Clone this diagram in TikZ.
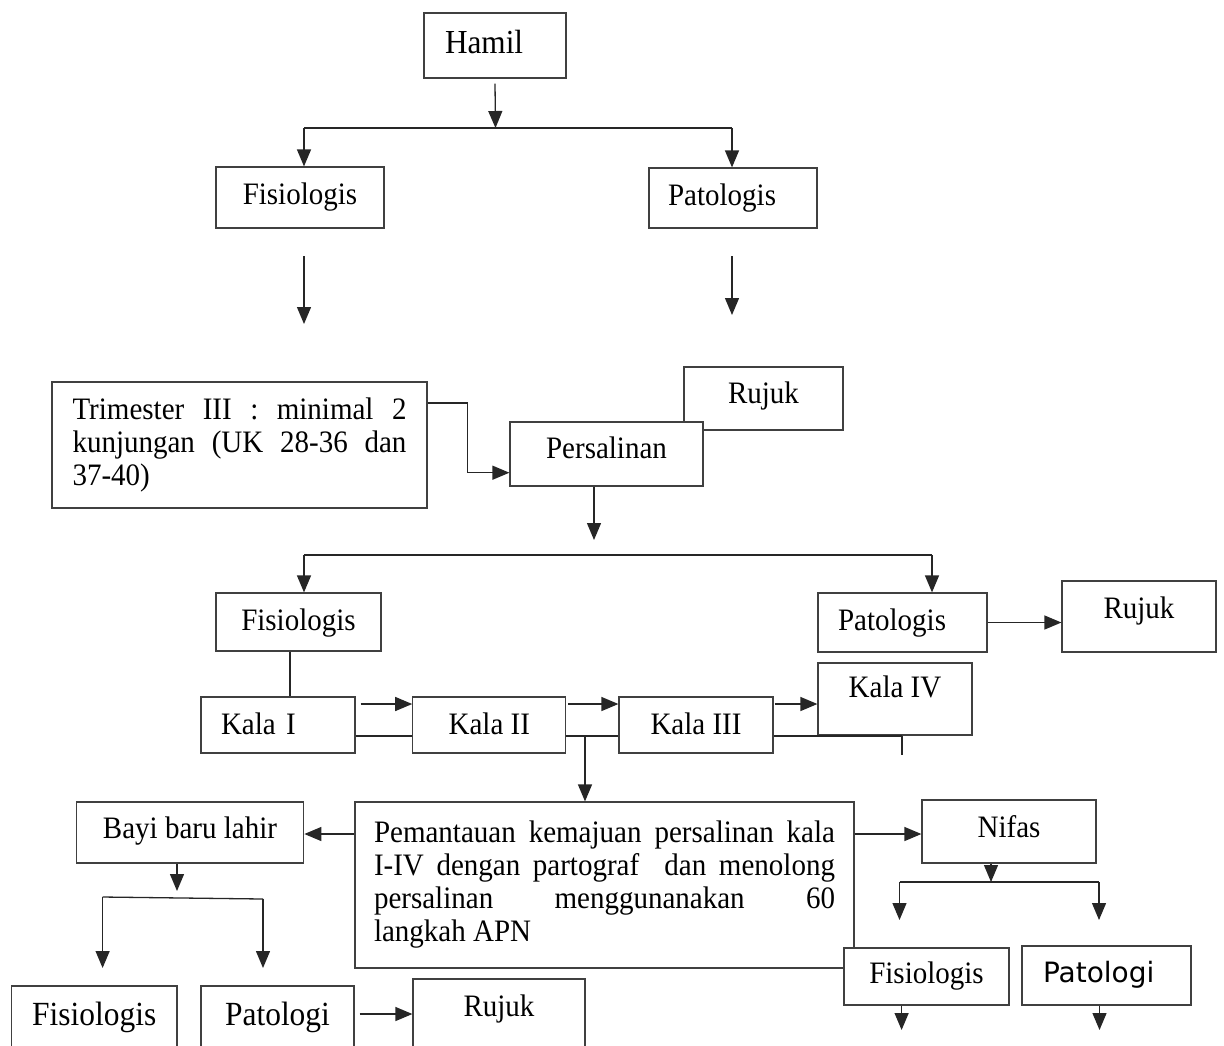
\documentclass[tikz,border=0pt]{standalone}
\usepackage{fontspec}
\setmainfont[FakeStretch=0.93]{Liberation Serif}
\newfontfamily\dvsans{DejaVu Sans}
\usetikzlibrary{arrows.meta,calc}
\begin{document}
\begin{tikzpicture}[x=0.5pt,y=-0.5pt,
  box/.style={draw=black!75, line width=0.6pt, fill=white, inner sep=0pt, text height=10pt,
    font=\fontsize{15.6}{16.5}\selectfont},
  ln/.style={draw=black!85, line width=0.65pt},
  arr/.style={ln, -{Triangle[length=8.5pt,width=7pt]}},
]
\useasboundingbox (0,0) rectangle (1224,1045);

% ---------- nodes ----------
\node[box, minimum width=71pt, minimum height=32.5pt, text width=50pt, align=left, inner xsep=10.5pt,
      text depth=2.5pt, font=\fontsize{16.8}{18}\selectfont] (hamil) at (495,45.5) {Hamil};
\node[box, minimum width=84pt, minimum height=30.5pt, text depth=3.5pt] (fis1) at (300,197.5) {Fisiologis};
\node[box, minimum width=84pt, minimum height=30pt, text width=65pt, align=left, inner xsep=9.5pt,
      text depth=3pt] (pat1) at (733,198) {Patologis};

\node[box, minimum width=187.5pt, minimum height=63pt, text width=167pt, align=justify, inner xsep=10.25pt,
      text height=, text depth=] (tri) at (239.5,445)
  {Trimester III : minimal 2\linebreak kunjungan (UK 28-36 dan\linebreak 37-40)};

\node[box, minimum width=79.5pt, minimum height=31.5pt, text depth=5.5pt] (rujuk1) at (763.5,398.5) {Rujuk};
\node[box, minimum width=96.5pt, minimum height=32pt, text depth=6pt] (pers) at (606.5,454) {Persalinan};

\node[box, minimum width=82.5pt, minimum height=29pt, text depth=2pt] (fis2) at (298.5,622) {Fisiologis};
\node[box, minimum width=84.5pt, minimum height=29.5pt, text width=64.5pt, align=left, inner xsep=10pt,
      text depth=2.5pt] (pat2) at (902.5,622.5) {Patologis};
\node[box, minimum width=77pt, minimum height=35.5pt, text depth=8.5pt] (rujuk2) at (1139,616.5) {Rujuk};

\node[box, minimum width=77pt, minimum height=28pt, text width=57pt, align=left, inner xsep=10pt,
      text depth=1pt] (kala1) at (278,725) {Kala I};
\node[box, minimum width=76.5pt, minimum height=28pt, text depth=1pt] (kala2) at (489.3,725) {Kala II};
\node[box, minimum width=77pt, minimum height=28pt, text depth=1pt] (kala3) at (696,725) {Kala III};
\node[box, minimum width=77pt, minimum height=36pt, text depth=12pt] (kala4) at (895,699) {Kala IV};

\node[box, minimum width=249.5pt, minimum height=83pt, text width=230.5pt, align=justify, inner xsep=9.5pt,
      text height=, text depth=] (pem) at (604.5,885)
  {Pemantauan kemajuan persalinan kala\linebreak I-IV dengan partograf\ \ dan menolong\linebreak
   persalinan menggunanakan 60\linebreak langkah APN};

\node[box, minimum width=113.75pt, minimum height=30.5pt, text depth=4.5pt] (bayi) at (190,832.5) {Bayi baru lahir};
\node[box, minimum width=87pt, minimum height=31.5pt, text depth=4.5pt] (nifas) at (1009,831.5) {Nifas};

\node[box, minimum width=82.75pt, minimum height=33pt, text depth=4pt,
      font=\fontsize{16.9}{18}\selectfont] (fis3) at (94.25,1019) {Fisiologis};
\node[box, minimum width=76.5pt, minimum height=33pt, text depth=4pt,
      font=\fontsize{16.9}{18}\selectfont] (pat3) at (277.5,1019) {Patologi};
\node[box, minimum width=86pt, minimum height=36.5pt, text depth=9.5pt] (rujuk3) at (499,1015.5) {Rujuk};

\node[box, minimum width=82.5pt, minimum height=28.5pt, text depth=3.5pt] (fis4) at (926.5,976.5) {Fisiologis};
\node[box, minimum width=84.5pt, minimum height=29.5pt, text width=63.5pt, align=left, inner xsep=10.5pt,
      text depth=3.5pt, font=\dvsans\fontsize{14}{16}\selectfont] (pat4) at (1106.5,975.5) {Patologi};

% ---------- connectors ----------
\coordinate (j1) at (495.5,128);
\coordinate (jL) at (304,128);
\coordinate (jR) at (732,128);
\draw[arr] ([yshift=-2.5pt]hamil.south) -- (j1);
\draw[ln] (jL) -- (jR);
\draw[arr] (jL) -- (jL |- fis1.north);
\draw[arr] (jR) -- (jR |- pat1.north);

\coordinate (fa1) at (304,256); \coordinate (fb1) at (304,324);
\draw[arr] (fa1) -- (fb1);
\coordinate (pa1) at (732,256); \coordinate (pb1) at (732,315);
\draw[arr] (pa1) -- (pb1);

\coordinate (tbend) at (467.7,403);
\coordinate (tbend2) at (467.7,472.7);
\draw[arr] (tri.east |- tbend) -- (tbend) -- (tbend2) -- (pers.west |- tbend2);

\coordinate (pd) at (594,540);
\draw[arr] (pers.south -| pd) -- (pd);
\coordinate (hL) at (304,555); \coordinate (hR) at (932,555);
\draw[ln] (hL) -- (hR);
\draw[arr] (hL) -- (hL |- fis2.north);
\draw[arr] (hR) -- (hR |- pat2.north);
\draw[arr] (pat2.east) -- (pat2.east -| rujuk2.west);

\coordinate (fk) at (290,0);
\draw[ln] (fis2.south -| fk) -- (kala1.north -| fk);

\coordinate (ra) at (0,704); \coordinate (rb) at (0,736);
\draw[arr] ($(kala1.east |- ra)+(5,0)$) -- (kala2.west |- ra);
\draw[arr] ($(kala2.east |- ra)+(2,0)$) -- (kala3.west |- ra);
\draw[arr] ($(kala3.east |- ra)+(1,0)$) -- (kala4.west |- ra);
\draw[ln] (kala1.east |- rb) -- (kala2.west |- rb);
\draw[ln] (kala2.east |- rb) -- (kala3.west |- rb);
\coordinate (k4d) at (902,755);
\draw[ln] (kala3.east |- rb) -- (k4d |- rb);
\draw[ln] (kala4.south -| k4d) -- (k4d);
\coordinate (k23) at (585,736);
\draw[arr] (k23) -- (pem.north -| k23);

\coordinate (mb) at (0,834);
\draw[arr] (pem.west |- mb) -- (bayi.east |- mb);
\draw[arr] (pem.east |- mb) -- (nifas.west |- mb);
\coordinate (bd) at (177,891);
\draw[arr] (bayi.south -| bd) -- (bd);
\coordinate (bL) at (102.6,897); \coordinate (bR) at (263,899);
\draw[ln] (bL) -- (bR);
\coordinate (bLd) at (102.6,968); \coordinate (bRd) at (263,968);
\draw[arr] (bL) -- (bLd);
\draw[arr] (bR) -- (bRd);
\coordinate (pr) at (0,1014);
\draw[arr] ($(pat3.east |- pr)+(5,0)$) -- (rujuk3.west |- pr);

\coordinate (nd) at (991,882);
\draw[arr] (nifas.south -| nd) -- (nd);
\coordinate (nL) at (899.5,882); \coordinate (nR) at (1099,882);
\draw[ln] (nL) -- (nR);
\coordinate (nLd) at (899.5,920); \coordinate (nRd) at (1099,920);
\draw[arr] (nL) -- (nLd);
\draw[arr] (nR) -- (nRd);
\coordinate (f4d) at (901.6,1030);
\draw[arr] (fis4.south -| f4d) -- (f4d);
\coordinate (p4d) at (1099.5,1030);
\draw[arr] (pat4.south -| p4d) -- (p4d);
\end{tikzpicture}
\end{document}
